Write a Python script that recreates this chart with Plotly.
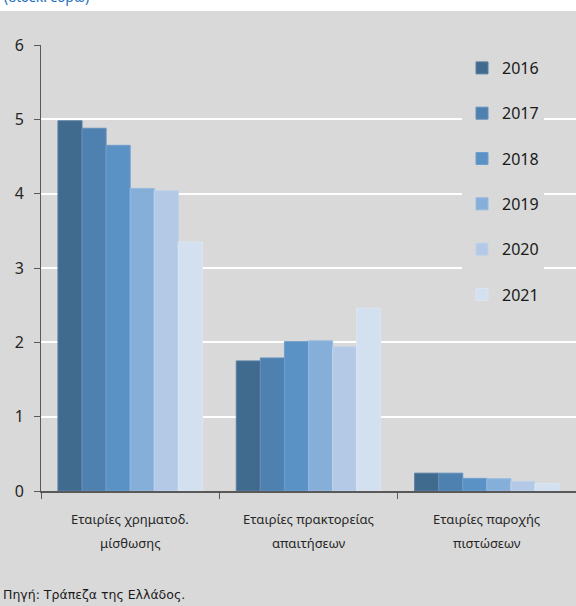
import plotly.graph_objects as go

cat_line1 = ["Εταιρίες χρηματοδ.", "Εταιρίες πρακτορείας", "Εταιρίες παροχής"]
cat_line2 = ["μίσθωσης", "απαιτήσεων", "πιστώσεων"]
categories = [a + " " + b for a, b in zip(cat_line1, cat_line2)]
years = ["2016", "2017", "2018", "2019", "2020", "2021"]
values = {
    "2016": [4.98, 1.75, 0.24],
    "2017": [4.88, 1.79, 0.24],
    "2018": [4.65, 2.01, 0.17],
    "2019": [4.07, 2.02, 0.165],
    "2020": [4.04, 1.94, 0.13],
    "2021": [3.35, 2.46, 0.10],
}
colors = ["#416a8f", "#4e80b0", "#5b92c5", "#85aed9", "#b3c9e5", "#d3e0f0"]
edge_colors = ["#5a7fa3", "#6690bb", "#6f9fcc", "#96badf", "#bfd2ea", "#dbe6f3"]
yticks = [0, 1, 2, 3, 4, 5, 6]

W, H = 576, 606
ML, MR, MT, MB = 41, 0, 45, 115
ph = H - MT - MB
pw = W - ML - MR

fig = go.Figure()
for i, y in enumerate(years):
    fig.add_trace(go.Bar(
        x=categories, y=values[y], name=y,
        marker=dict(color=colors[i], line=dict(color=edge_colors[i], width=1)),
        legendgroup=y,
    ))

GRAY = "#d9d9d9"
annotations = [
    dict(text="(δισεκ. ευρώ)", xref="paper", yref="paper",
         x=-ML / pw + 2 / pw, y=1 + (MT - 8) / ph,
         xanchor="left", yanchor="bottom", showarrow=False,
         font=dict(size=14, color="#1f6fc0", family="Noto Sans")),
    dict(text="Πηγή: Τράπεζα της Ελλάδος.", xref="paper", yref="paper",
         x=-ML / pw + 1 / pw, y=-(594 - (MT + ph)) / ph,
         xanchor="left", yanchor="middle", showarrow=False,
         font=dict(size=12.5, color="#1a1a1a", family="DejaVu Sans")),
]
for c, l1, l2 in zip(categories, cat_line1, cat_line2):
    for txt, py in ((l1, 519), (l2, 543)):
        annotations.append(dict(
            text=txt, xref="x", yref="paper", x=c, y=-(py - (MT + ph)) / ph,
            xanchor="center", yanchor="middle", showarrow=False,
            font=dict(size=13, color="#262626", family="Noto Sans")))

fig.update_layout(
    width=W, height=H,
    margin=dict(l=ML, r=MR, t=MT, b=MB),
    paper_bgcolor=GRAY, plot_bgcolor=GRAY,
    barmode="group", bargap=0.19, bargroupgap=0,
    font=dict(family="Noto Sans", color="#1a1a1a"),
    showlegend=True,
    legend=dict(
        x=(462 - ML) / pw, y=1 - (51 - MT) / ph, xanchor="left", yanchor="top",
        bgcolor=GRAY, font=dict(size=16, family="Noto Sans"),
        tracegroupgap=21.5, itemclick=False,
    ),
    shapes=[dict(type="rect", xref="paper", yref="paper",
                 x0=-ML / pw, x1=1.01, y0=1 + (MT - 11) / ph, y1=1 + (MT + 5) / ph,
                 fillcolor="white", line=dict(width=0), layer="below")],
    annotations=annotations,
)
fig.update_yaxes(
    range=[0, 6], tickvals=yticks, ticks="outside", ticklen=6, tickcolor="#595959",
    showline=True, linecolor="#595959", linewidth=1,
    showgrid=True, gridcolor="white", gridwidth=1.5, zeroline=False,
    tickfont=dict(size=16, color="#262626"), ticklabelstandoff=7,
)
fig.update_xaxes(
    showline=True, linecolor="#595959", linewidth=1.5,
    ticks="outside", ticklen=6, tickcolor="#595959", tickson="boundaries",
    showticklabels=False,
)
fig.write_html("out.html", config={"displayModeBar": False},
               post_script="document.body.style.margin='0';")
